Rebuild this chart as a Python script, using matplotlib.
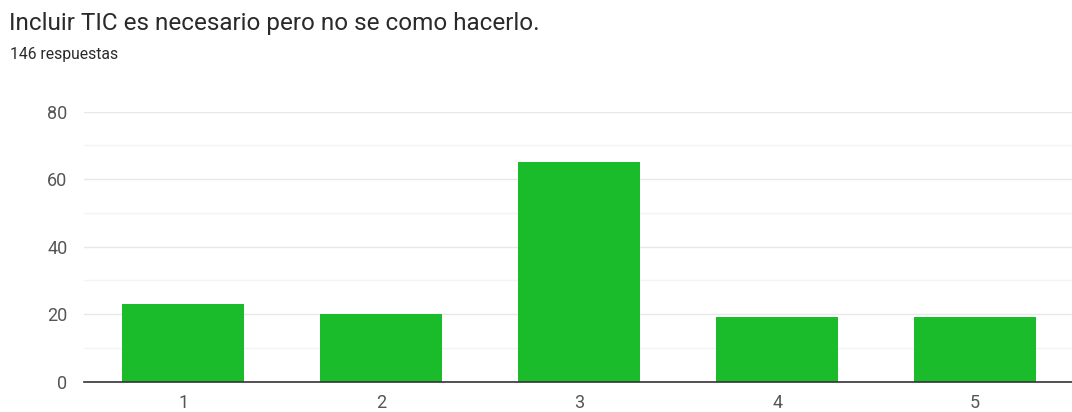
import matplotlib
matplotlib.use("Agg")
import matplotlib.pyplot as plt
from matplotlib.ticker import MultipleLocator

categories = ["1", "2", "3", "4", "5"]
values = [23, 20, 65, 19, 19]
title = "Incluir TIC es necesario pero no se como hacerlo."
subtitle = "146 respuestas"
yticks = [0, 20, 40, 60, 80]

plt.rcParams['font.family'] = ['Roboto', 'DejaVu Sans']

fig = plt.figure(figsize=(10.72, 4.12), dpi=100)
ax = fig.add_axes([0.0785, 0.074, 0.9235, 0.655])

x = list(range(len(categories)))
ax.bar(x, values, width=0.616, color="#1bbc2c", zorder=3)
ax.set_xlim(-0.5, len(categories) - 0.5)
ax.set_ylim(0, 80)
ax.set_yticks(yticks)
ax.yaxis.set_minor_locator(MultipleLocator(10))
ax.set_xticks(x)
ax.set_xticklabels(categories)
ax.grid(axis='y', which='major', color="#e8e8e8", linewidth=1, zorder=0)
ax.grid(axis='y', which='minor', color="#f4f4f4", linewidth=1, zorder=0)
for s in ['top', 'right', 'left']:
    ax.spines[s].set_visible(False)
ax.spines['bottom'].set_color("#333333")
ax.spines['bottom'].set_linewidth(1.2)
ax.spines['bottom'].set_zorder(4)
ax.tick_params(axis='both', which='both', length=0, colors="#555555", labelsize=13)
ax.tick_params(axis='y', pad=12)
ax.tick_params(axis='x', pad=9)

fig.text(0.008, 0.942, title, fontsize=17.5, color="#2a2a2a", ha='left', va='center')
fig.text(0.009, 0.868, subtitle, fontsize=11.3, color="#2a2a2a", ha='left', va='center')

fig.savefig("out.png", dpi=100, facecolor="white")
